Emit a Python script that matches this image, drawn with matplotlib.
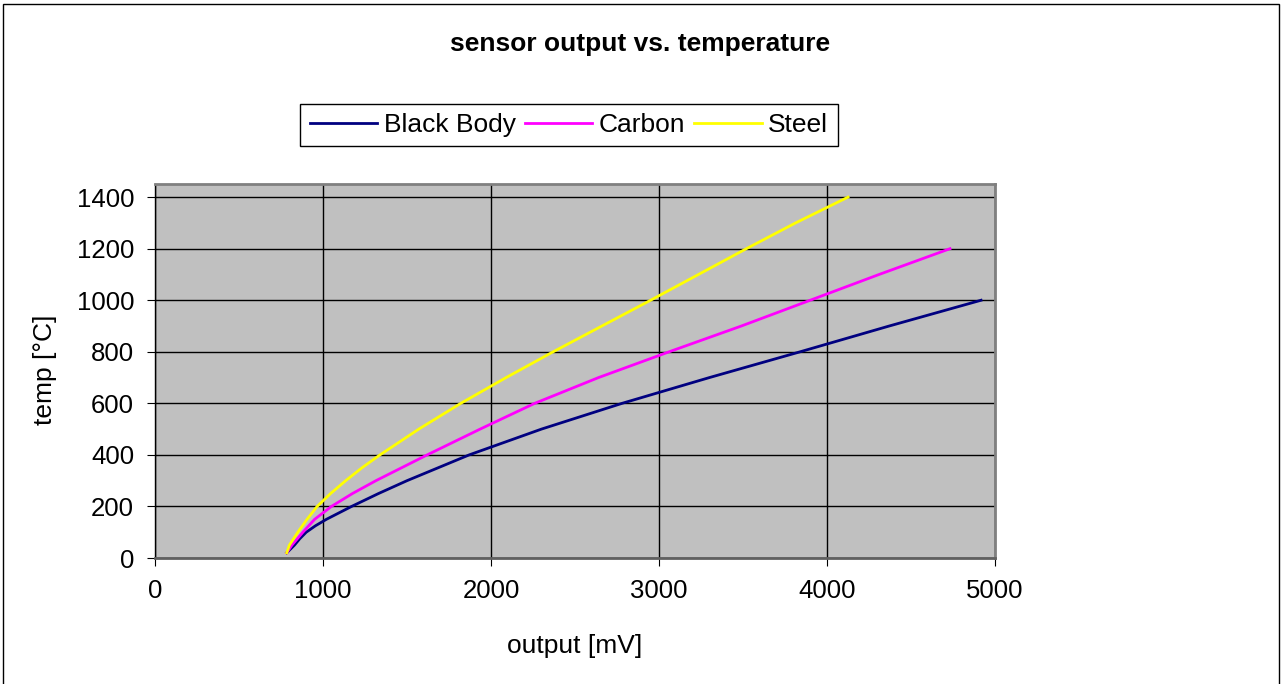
import matplotlib.pyplot as plt
from matplotlib.patches import Rectangle

plt.rcParams['font.family'] = ['Liberation Sans', 'DejaVu Sans']

# data: temp [°C] vs. output [mV]
bb_temp = [20, 50, 75, 100, 125, 150, 200, 250, 300, 400, 500, 600, 700, 800, 900, 1000]
bb_mv = [784, 830, 862, 900, 955, 1020, 1170, 1330, 1500, 1870, 2300, 2780, 3300, 3840, 4370, 4917]

carbon_temp = [20, 50, 100, 150, 200, 250, 300, 400, 500, 600, 700, 800, 900, 1000, 1100, 1200]
carbon_mv = [784, 815, 880, 950, 1050, 1175, 1315, 1620, 1935, 2260, 2640, 3060, 3490, 3900, 4310, 4732]

steel_temp = [20, 50, 100, 150, 200, 250, 300, 350, 400, 500, 600, 700, 800, 900, 1000, 1100, 1200, 1300, 1400]
steel_mv = [784, 800, 850, 905, 965, 1045, 1135, 1232, 1339, 1570, 1820, 2090, 2370, 2660, 2950, 3235, 3520, 3813, 4125]

fig = plt.figure(figsize=(12.84, 6.84), dpi=100)
ax = fig.add_axes([155/1284, 1 - 558/684, 840/1284, 374/684])
ax.set_facecolor('#C0C0C0')

ax.plot(bb_mv, bb_temp, color='#000080', lw=2, label='Black Body')
ax.plot(carbon_mv, carbon_temp, color='#FF00FF', lw=2, label='Carbon')
ax.plot(steel_mv, steel_temp, color='#FFFF00', lw=2, label='Steel')

ax.set_xlim(0, 5000)
ax.set_ylim(0, 1451)
ax.set_xticks(range(0, 5001, 1000))
ax.set_yticks(range(0, 1401, 200))
ax.grid(True, color='black', lw=1)
ax.set_axisbelow(True)
ax.tick_params(labelsize=18.5, direction='out', length=6, color='black')
ax.tick_params(axis='y', pad=9)
ax.tick_params(axis='x', pad=9)
for s in ax.spines.values():
    s.set_color('#808080')
    s.set_linewidth(2)
ax.spines['left'].set_color('black')
ax.spines['left'].set_linewidth(1)
ax.spines['bottom'].set_color('#606060')

ax.set_xlabel('output [mV]', fontsize=19, va='center')
ax.set_ylabel('temp [°C]', fontsize=19, va='center')
ax.xaxis.set_label_coords(0.5, (558 - 646) / 374)
ax.yaxis.set_label_coords((45 - 155) / 840, 0.503)

fig.text(0.4985, 1 - 44/684, 'sensor output vs. temperature', ha='center', va='center',
         fontsize=19, fontweight='bold')

fig.legend(loc='center', bbox_to_anchor=(569/1284, 1 - 125/684), ncol=3, fontsize=19,
           frameon=True, fancybox=False, edgecolor='black', framealpha=1,
           handlelength=2.55, columnspacing=0.35, handletextpad=0.25,
           borderpad=0.35, borderaxespad=0)

fig.patches.append(Rectangle((3/1284, -0.01), 1276/1284, 1 - 4/684 + 0.01,
                             transform=fig.transFigure, fill=False, edgecolor='black', lw=1))

fig.savefig('out.png', dpi=100)
